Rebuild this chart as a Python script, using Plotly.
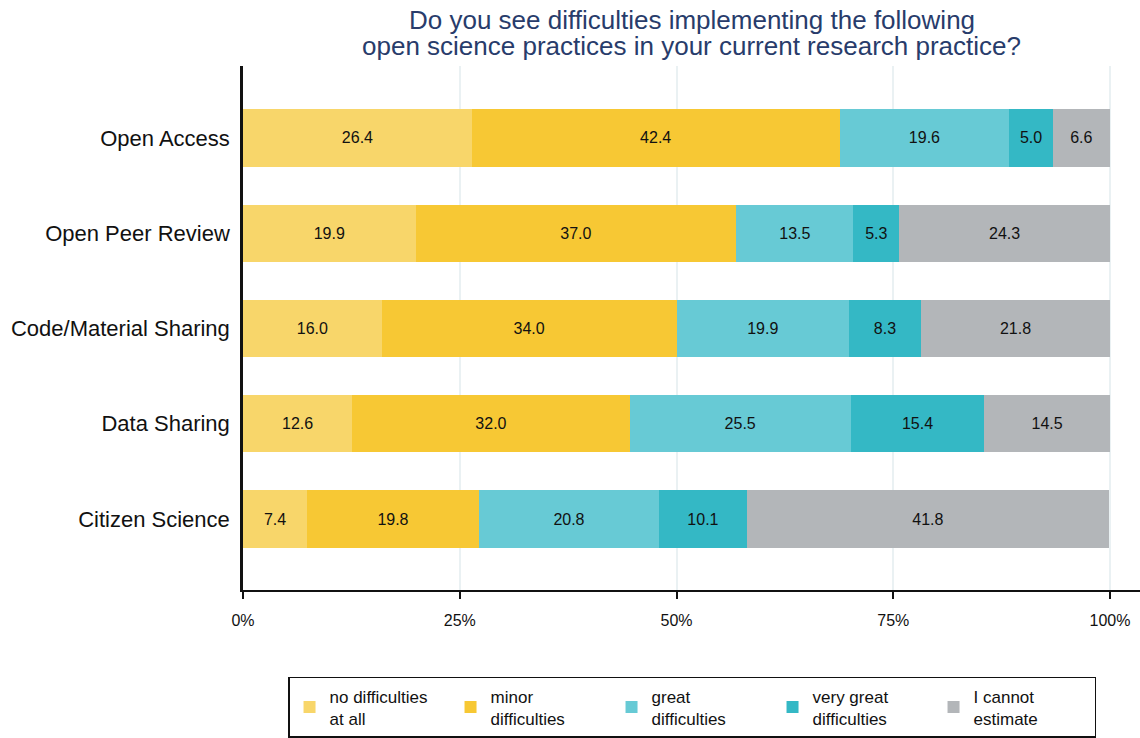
import plotly.graph_objects as go

# Survey results: share of respondents (%) per practice and answer
practices = ["Open Access", "Open Peer Review", "Code/Material Sharing",
             "Data Sharing", "Citizen Science"]
answers = ["no difficulties<br>at all", "minor<br>difficulties", "great<br>difficulties",
           "very great<br>difficulties", "I cannot<br>estimate"]
no_difficulties = [26.4, 19.9, 16.0, 12.6, 7.4]
minor_difficulties = [42.4, 37.0, 34.0, 32.0, 19.8]
great_difficulties = [19.6, 13.5, 19.9, 25.5, 20.8]
very_great_difficulties = [5.0, 5.3, 8.3, 15.4, 10.1]
cannot_estimate = [6.6, 24.3, 21.8, 14.5, 41.8]
tick_values = [0, 25, 50, 75, 100]
title_lines = ["Do you see difficulties implementing the following",
               "open science practices in your current research practice?"]

series = [no_difficulties, minor_difficulties, great_difficulties,
          very_great_difficulties, cannot_estimate]
colors = ["#f8d66a", "#f7c834", "#67cad5", "#34b8c5", "#b3b6b9"]

FONT = "Liberation Sans, Arial, sans-serif"

fig = go.Figure()
for name, vals, col in zip(answers, series, colors):
    fig.add_trace(go.Bar(
        y=practices, x=vals, name=name, orientation="h",
        marker=dict(color=col, line=dict(width=0)),
        width=0.6,
        text=[f"{v:.1f}" for v in vals],
        textposition="inside", insidetextanchor="middle",
        textfont=dict(family=FONT, size=16, color="#111111"),
        constraintext="none",
        hoverinfo="x+y+name",
    ))

# Two-line title above the plotting area, one annotation per line
for line, ypos in zip(title_lines, [1.088, 1.039]):
    fig.add_annotation(
        text=line,
        x=0.5, xref="paper", xanchor="center",
        y=ypos, yref="paper", yanchor="middle",
        showarrow=False, align="center",
        font=dict(family=FONT, size=26, color="#283c6b"),
    )

fig.update_layout(
    width=1140, height=738,
    barmode="stack",
    plot_bgcolor="white", paper_bgcolor="white",
    margin=dict(l=243, r=0, t=66, b=148, autoexpand=False),
    font=dict(family=FONT, color="#111111"),
    legend=dict(
        orientation="h",
        x=0.0502, xanchor="left", xref="paper",
        y=-0.166, yanchor="top", yref="paper",
        bordercolor="#111111", borderwidth=1.5, bgcolor="white",
        font=dict(family=FONT, size=17, color="#111111"),
        entrywidth=116, entrywidthmode="pixels",
        traceorder="normal",
        valign="middle",
    ),
    showlegend=True,
)

fig.update_xaxes(
    range=[0, 103.46],
    tickvals=tick_values, ticktext=[f"{v}%" for v in tick_values],
    tickfont=dict(family=FONT, size=16, color="#111111"),
    showgrid=True, gridcolor="#eaf1f3", gridwidth=1.5,
    zeroline=False,
    showline=True, linecolor="#111111", linewidth=2,
    ticks="outside", ticklen=7, tickwidth=1.5, tickcolor="#111111",
    ticklabelstandoff=8,
)
fig.update_yaxes(
    categoryorder="array", categoryarray=practices,
    range=[4.745, -0.755],
    tickfont=dict(family=FONT, size=22, color="#111111"),
    showgrid=False, zeroline=False,
    showline=True, linecolor="#111111", linewidth=2.5,
    ticks="", ticklabelstandoff=6,
)

fig.write_html("out.html")
